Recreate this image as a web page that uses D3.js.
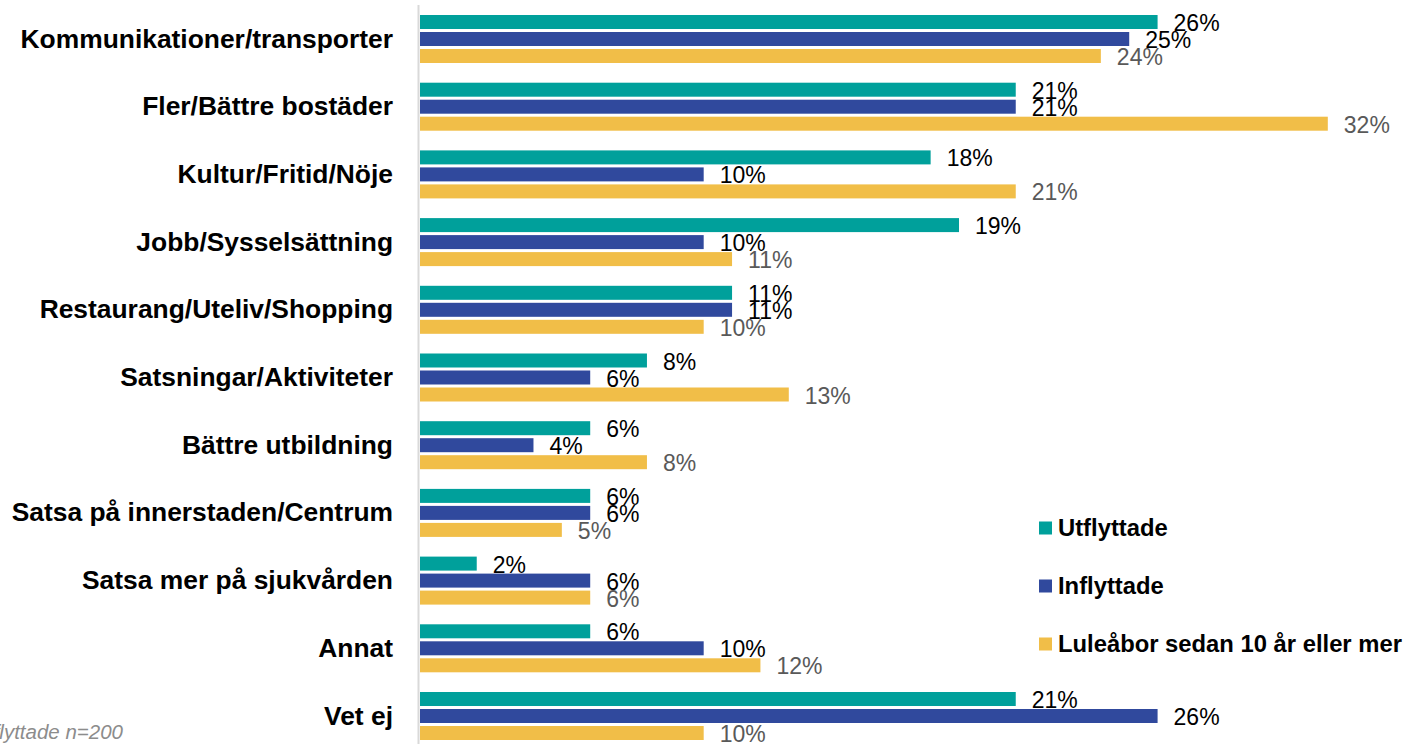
<!DOCTYPE html>
<html>
<head>
<meta charset="utf-8">
<script src="https://cdn.jsdelivr.net/npm/d3@7"></script>
<style>
  html, body { margin: 0; padding: 0; background: #fff; }
  svg { display: block; }
  text { font-family: "Liberation Sans", Arial, sans-serif; }
</style>
</head>
<body>
<script>
const categories = [
  "Kommunikationer/transporter",
  "Fler/Bättre bostäder",
  "Kultur/Fritid/Nöje",
  "Jobb/Sysselsättning",
  "Restaurang/Uteliv/Shopping",
  "Satsningar/Aktiviteter",
  "Bättre utbildning",
  "Satsa på innerstaden/Centrum",
  "Satsa mer på sjukvården",
  "Annat",
  "Vet ej"
];
const seriesNames = ["Utflyttade", "Inflyttade", "Luleåbor sedan 10 år eller mer"];
const utflyttade = [26, 21, 18, 19, 11, 8, 6, 6, 2, 6, 21];
const inflyttade = [25, 21, 10, 10, 11, 6, 4, 6, 6, 10, 26];
const lulebor    = [24, 32, 21, 11, 10, 13, 8, 5, 6, 12, 10];
const seriesValues = [utflyttade, inflyttade, lulebor];
const colors = ["#00A09B", "#30499D", "#F1BE48"];
const labelColors = ["#000000", "#000000", "#595959"];
const footnote = "Inflyttade n=200";

(function () {
const W = 1407, H = 744;
const svg = d3.select("body").append("svg").attr("width", W).attr("height", H);

const x = d3.scaleLinear().domain([0, 32]).range([420, 1327.8]);

const step = 67.7, block = 48, firstTop = 15;
const pad = (step - block) / step;
const y0 = firstTop - (step - block) / 2;
const y = d3.scaleBand().domain(categories)
  .range([y0, y0 + step * categories.length])
  .paddingInner(pad).paddingOuter(pad / 2);
const yi = d3.scaleBand().domain(seriesNames).range([0, y.bandwidth()])
  .paddingInner(3 / 17).paddingOuter(0);

// axis line
svg.append("line").attr("x1", 418.5).attr("x2", 418.5).attr("y1", 5).attr("y2", H)
  .attr("stroke", "#d9d9d9").attr("stroke-width", 2);

const rows = categories.map((c, i) => ({ cat: c, vals: seriesValues.map(s => s[i]) }));

const g = svg.selectAll("g.row").data(rows).join("g").attr("class", "row")
  .attr("transform", d => `translate(0,${y(d.cat)})`);

g.selectAll("rect").data(d => d.vals.map((v, k) => ({ v, k })))
  .join("rect")
  .attr("x", x(0))
  .attr("y", d => yi(seriesNames[d.k]))
  .attr("width", d => x(d.v) - x(0))
  .attr("height", yi.bandwidth())
  .attr("fill", d => colors[d.k]);

g.selectAll("text.val").data(d => d.vals.map((v, k) => ({ v, k })))
  .join("text").attr("class", "val")
  .attr("x", d => x(d.v) + 16)
  .attr("y", d => yi(seriesNames[d.k]) + yi.bandwidth() / 2 + 9)
  .attr("font-size", 23)
  .attr("fill", d => labelColors[d.k])
  .text(d => d.v + "%");

g.append("text")
  .attr("x", 393)
  .attr("y", y.bandwidth() / 2 + 8.5)
  .attr("text-anchor", "end")
  .attr("font-size", 26.4)
  .attr("font-weight", "bold")
  .attr("fill", "#000")
  .text(d => d.cat);

// legend
const lg = svg.append("g");
seriesNames.forEach((s, k) => {
  const cy = 528 + k * 58;
  lg.append("rect").attr("x", 1039).attr("y", cy - 6.5).attr("width", 13).attr("height", 13).attr("fill", colors[k]);
  lg.append("text").attr("x", 1058).attr("y", cy + 8).attr("font-size", 23.8)
    .attr("font-weight", "bold").attr("fill", "#000").text(s);
});

// footnote
svg.append("text").attr("x", 123).attr("y", 739).attr("text-anchor", "end")
  .attr("font-size", 20.5).attr("font-style", "italic").attr("fill", "#8c8c8c")
  .text(footnote);
})();
</script>
</body>
</html>
